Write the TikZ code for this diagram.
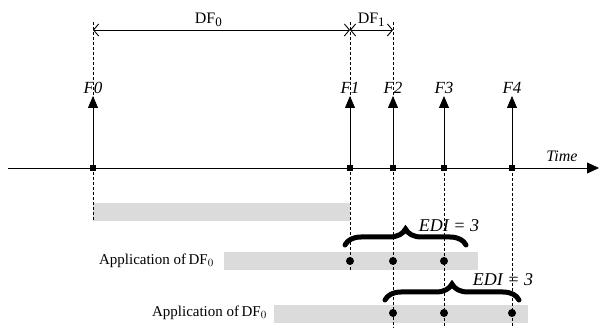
\documentclass[tikz,border=0pt]{standalone}
\usepackage{fontspec}
\setmainfont{Liberation Serif}
\usetikzlibrary{arrows.meta,decorations.pathreplacing}

\begin{document}
\begin{tikzpicture}[x=1pt,y=-1pt,
    guide/.style={densely dashed,line width=.5pt},
    farrow/.style={line width=.8pt,-{Triangle[length=12pt,width=10pt]}},
    dfarrow/.style={line width=.9pt,{Straight Barb[length=5pt,width=12pt]}-{Straight Barb[length=5pt,width=12pt]}},
    flabel/.style={anchor=south,inner sep=2pt,font=\fontsize{17}{17}\selectfont\itshape},
    bar/.style={fill=black!14},
    edibrace/.style={decorate,decoration={brace,amplitude=16pt},line width=5pt,line cap=round},
    applabel/.style={anchor=east,inner sep=0pt,font=\fontsize{15}{15}\selectfont}]
\useasboundingbox (0,0) rectangle (600,328);
% gray bars
\fill[bar] (93,203) rectangle (350,221);
\fill[bar] (224,252) rectangle (478,270);
\fill[bar] (274,305) rectangle (528,323);
\node[applabel] (app1) at (214,261) {Application of\,DF$_0$};
\node[applabel] (app2) at (267,313) {Application of\,DF$_0$};
% guides
\draw[guide] (93,22) -- (93,221);
\draw[guide] (350,22) -- (350,271);
\draw[guide] (393,22) -- (393,328);
\draw[guide] (444,168) -- (444,328);
\draw[guide] (512,168) -- (512,328);
% time axis
\coordinate (tstart) at (8,168);
\coordinate (tend) at (599,168);
\draw[line width=.8pt,-{Triangle[length=12pt,width=11pt]}] (tstart) -- (tend);
\node[font=\fontsize{16}{16}\selectfont\itshape] (time) at (562,156) {Time};
% frames
\foreach \n/\x in {0/93,1/350,2/393,3/444,4/512} {
  \coordinate (t\n) at (\x,168);
  \node[flabel] (f\n) at (\x,96) {F\n};
  \draw[farrow] (t\n) -- (f\n.south);
  \fill (\x-3,165) rectangle (\x+3,171);
}
% distances
\coordinate (d0) at (93,30);
\coordinate (d1) at (350,30);
\coordinate (d2) at (393,30);
\draw[dfarrow] (d0) -- node[pos=.45,above=0pt,font=\fontsize{16}{16}\selectfont] (df0) {DF$_{\mbox{\fontsize{13}{13}\selectfont 0}}$} (d1);
\draw[dfarrow] (d1) -- node[above=0pt,font=\fontsize{16}{16}\selectfont] (df1) {DF$_{\mbox{\fontsize{13}{13}\selectfont 1}}$} (d2);
% EDI windows
\draw[edibrace] (345,245) -- (466,245);
\node[font=\fontsize{18}{18}\selectfont\itshape] (edi1) at (449,226) {EDI = 3};
\draw[edibrace] (385,300) -- (519,300);
\node[font=\fontsize{18}{18}\selectfont\itshape] (edi2) at (503,280) {EDI = 3};
\foreach \x in {350,393,444} \fill (\x,261) circle (4);
\foreach \x in {393,444,512} \fill (\x,313) circle (4);
\end{tikzpicture}
\end{document}
